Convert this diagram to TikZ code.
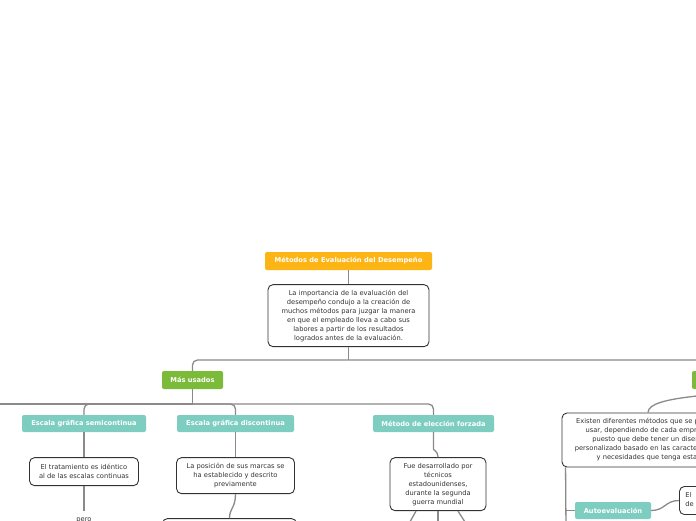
\documentclass[tikz,border=0pt]{standalone}
\usepackage{fontspec}
\setmainfont{DejaVu Sans}
\usetikzlibrary{positioning}
\definecolor{topicfill}{HTML}{FDB515}
\definecolor{groupfill}{HTML}{7CBB3A}
\definecolor{methodfill}{HTML}{7ECDC1}
\definecolor{ink}{HTML}{333333}
\definecolor{wire}{HTML}{8A8A8A}
\newcommand{\mapfont}{\fontsize{6.7}{9}\selectfont}
\tikzset{
  topic/.style  = {rectangle, rounded corners=2pt, fill=topicfill, text=white,
                   font=\mapfont\bfseries, minimum height=18pt, inner sep=2pt},
  group/.style  = {rectangle, rounded corners=2pt, fill=groupfill, text=white,
                   font=\mapfont\bfseries, minimum height=18pt, inner sep=2pt},
  method/.style = {rectangle, rounded corners=2pt, fill=methodfill, text=white,
                   font=\mapfont\bfseries, minimum height=17pt, inner sep=2pt},
  note/.style   = {rectangle, rounded corners=5pt, draw=ink, line width=0.9pt,
                   fill=white, align=center, font=\mapfont, text=ink, inner sep=3pt},
  link/.style   = {draw=wire, line width=1.3pt, rounded corners=5pt},
}

\begin{document}
\begin{tikzpicture}[x=1pt, y=-1pt]
  \useasboundingbox (0,0) rectangle (696,520);
  \clip (0,0) rectangle (696,520);
  \fill[white] (0,0) rectangle (696,520);

  \node[topic, minimum width=167pt] (root) at (348.5,261) {Métodos de Evaluación del Desempeño};
  \node[note, below=14pt of root, minimum width=161pt, minimum height=62pt] (intro)
       {La importancia de la evaluación del\\desempeño condujo a la creación de\\muchos métodos para juzgar la manera\\en que el empleado lleva a cabo sus\\labores a partir de los resultados\\logrados antes de la evaluación.};
  \draw[link] (root) -- (intro);

  % first level
  \node[group, minimum width=61pt] (used) at (192.5,380) {Más usados};
  \node[group, minimum width=70pt] (other) at (727,380) {};
  \coordinate (split) at (348.5,360);
  \draw[link] (intro) -- (split);
  \draw[link] (split) -| (used.north);
  \draw[link] (split) -| (other.north);

  % most used methods
  \node[method, minimum width=124pt] (semi) at (84,423.5) {Escala gráfica semicontinua};
  \node[method, minimum width=117pt] (disc) at (235.5,423.5) {Escala gráfica discontinua};
  \node[method, minimum width=121pt] (forced) at (433.5,423.5) {Método de elección forzada};
  \coordinate (fork) at (192.5,404);
  \coordinate (farleft) at (-10,404);
  \draw[link] (used) -- (fork);
  \draw[link] (fork) -- (farleft);
  \draw[link] (fork) -| (semi.north);
  \draw[link] (fork) -| (disc.north);
  \draw[link] (fork) -| (forced.north);

  \node[note, below=25pt of semi, minimum width=109pt, minimum height=28pt] (same)
       {El tratamiento es idéntico\\al de las escalas continuas};
  \draw[link] (semi) -- (same);
  \node[font=\mapfont, text=ink, inner sep=3pt] (but) at (84,520.5) {pero};
  \draw[link] (same) -- ([yshift=4pt]but.north);

  \node[note, below=25pt of disc, minimum width=118pt, minimum height=36pt] (marks)
       {La posición de sus marcas se\\ha establecido y descrito\\previamente};
  \draw[link] (disc) -- (marks);
  \node[note, below=24pt of marks, xshift=-6pt, minimum width=134pt, minimum height=40pt] (nextdisc) {};
  \draw[link] (marks.south) .. controls +(0,14) and +(0,-10) .. (nextdisc.north);

  \node[note, below=25pt of forced, xshift=4.5pt, minimum width=96pt, minimum height=53pt] (origin)
       {Fue desarrollado por\\técnicos\\estadounidenses,\\durante la segunda\\guerra mundial};
  \draw[link] (forced.south) -- ++(0,12) .. controls +(0,6) and +(0,-6) .. (origin.north);
  \coordinate (subA) at (402,536);
  \coordinate (subB) at (438,536);
  \coordinate (subC) at (474,536);
  \draw[link] ([xshift=-22pt]origin.south) -- (subA);
  \draw[link] (origin.south) -- (subB);
  \draw[link] ([xshift=20pt]origin.south) -- (subC);

  % other methods
  \node[note, minimum width=172pt, minimum height=54pt] (exist) at (648,440)
       {Existen diferentes métodos que se pueden\\usar, dependiendo de cada empresa,\\puesto que debe tener un diseño\\personalizado basado en las características\\y necesidades que tenga esta.};
  \draw[link] (other.south) .. controls +(0,8) and +(0,-18) .. (exist.north);
  \coordinate (trunk) at ([xshift=4pt]exist.south west);
  \coordinate (trunkend) at (566,530);
  \draw[link] (trunk) -- (trunkend);

  \node[method, minimum width=76pt] (self) at (613,510.5) {Autoevaluación};
  \draw[link] (trunk |- self) -- (self.west);
  \node[note, anchor=north west, text width=98pt, align=left, text depth=11pt, inner sep=6pt] (selfnote)
       at (679,486) {El\\de};
  \draw[link] (self.east) .. controls +(14,0) and +(-14,0) .. (selfnote.west);
\end{tikzpicture}
\end{document}
